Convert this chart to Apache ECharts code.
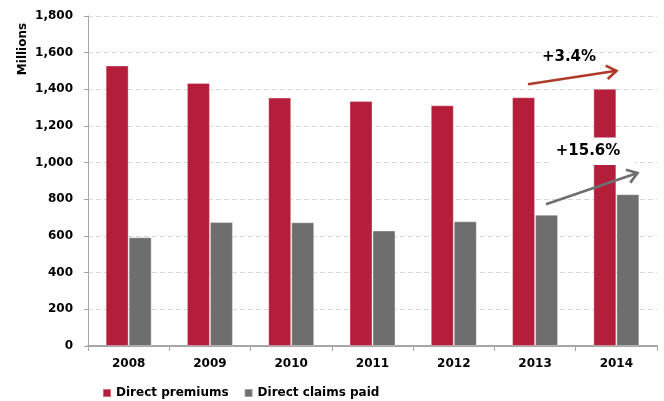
<!DOCTYPE html>
<html>
<head>
<meta charset="utf-8">
<script src="https://cdn.jsdelivr.net/npm/echarts@6/dist/echarts.min.js"></script>
<style>
  html, body { margin: 0; padding: 0; background: #fff; }
  #chart { width: 664px; height: 401px; }
</style>
</head>
<body>
<div id="chart"></div>
<script>
// Years on the category axis
const years = ['2008', '2009', '2010', '2011', '2012', '2013', '2014'];
// Direct premiums, millions
const directPremiums = [1530, 1435, 1355, 1337, 1313, 1357, 1403];
// Direct claims paid, millions
const directClaims = [593, 676, 675, 630, 680, 716, 828];
// Value axis range
const yMin = 0, yMax = 1800, yStep = 200;
// Growth call-outs 2013 -> 2014
const premiumGrowthText = '+3.4%';
const claimsGrowthText = '+15.6%';

const FONT = '"DejaVu Sans", Verdana, sans-serif';
const RED = '#B41E3A';
const GREY = '#6E6E6E';

function fmt(v) {
  return String(v).replace(/\B(?=(\d{3})+(?!\d))/g, ',');
}

// Open chevron arrow built from a shaft and two wings
function arrow(x1, y1, x2, y2, color) {
  const ang = Math.atan2(y2 - y1, x2 - x1);
  const len = 12, spread = 0.6;
  const w1 = [x2 - len * Math.cos(ang - spread), y2 - len * Math.sin(ang - spread)];
  const w2 = [x2 - len * Math.cos(ang + spread), y2 - len * Math.sin(ang + spread)];
  const style = { stroke: color, lineWidth: 2.6, fill: null, lineCap: 'butt', lineJoin: 'miter' };
  return [
    { type: 'line', shape: { x1: x1, y1: y1, x2: x2, y2: y2 }, style: style, z: 10 },
    { type: 'polyline', shape: { points: [w1, [x2, y2], w2] }, style: style, z: 10 }
  ];
}

const chart = echarts.init(document.getElementById('chart'), null, { renderer: 'canvas' });

chart.setOption({
  animation: false,
  backgroundColor: '#fff',
  grid: { left: 88, right: 7, top: 16, bottom: 55, containLabel: false },
  legend: {
    left: 97,
    top: 382,
    itemWidth: 8,
    itemHeight: 8,
    itemGap: 15,
    icon: 'rect',
    textStyle: { fontFamily: FONT, fontWeight: 'bold', fontSize: 12, color: '#000' },
    data: ['Direct premiums', 'Direct claims paid']
  },
  xAxis: {
    type: 'category',
    data: years,
    axisLine: { lineStyle: { color: '#A6A6A6', width: 2 } },
    axisTick: { show: true, length: 5, lineStyle: { color: '#A6A6A6' } },
    axisLabel: { margin: 12, fontFamily: FONT, fontWeight: 'bold', fontSize: 12, color: '#000' }
  },
  yAxis: {
    type: 'value',
    min: yMin,
    max: yMax,
    interval: yStep,
    axisLine: { show: true, lineStyle: { color: '#A6A6A6', width: 1 } },
    axisTick: { show: true, length: 4, lineStyle: { color: '#A6A6A6' } },
    axisLabel: {
      margin: 15,
      fontFamily: FONT, fontWeight: 'bold', fontSize: 12, color: '#000',
      formatter: fmt
    },
    splitLine: { show: true, lineStyle: { color: '#D9D9D9', type: [5, 3], width: 1 } }
  },
  series: [
    {
      name: 'Direct premiums',
      type: 'bar',
      data: directPremiums,
      barWidth: 23,
      barGap: '0%',
      itemStyle: { color: RED, borderColor: 'rgba(255,255,255,0.35)', borderWidth: 1 }
    },
    {
      name: 'Direct claims paid',
      type: 'bar',
      data: directClaims,
      barWidth: 23,
      barGap: '0%',
      itemStyle: { color: GREY, borderColor: 'rgba(255,255,255,0.35)', borderWidth: 1 }
    }
  ],
  graphic: [
    {
      type: 'text',
      x: 22.5, y: 49,
      rotation: Math.PI / 2,
      style: {
        text: 'Millions', fontFamily: FONT, fontWeight: 'bold', fontSize: 12, fill: '#000',
        align: 'center', verticalAlign: 'middle'
      }
    },
    ...arrow(528, 84.3, 616.5, 70.8, '#AD3B27'),
    {
      type: 'text', x: 569, y: 57, z: 11,
      style: {
        text: premiumGrowthText, fontFamily: FONT, fontWeight: 'bold', fontSize: 15, fill: '#000',
        align: 'center', verticalAlign: 'middle'
      }
    },
    {
      type: 'rect', z: 9,
      shape: { x: 552, y: 137.5, width: 83, height: 27.5 },
      style: { fill: '#fff' }
    },
    {
      type: 'text', x: 588, y: 151.5, z: 11,
      style: {
        text: claimsGrowthText, fontFamily: FONT, fontWeight: 'bold', fontSize: 15, fill: '#000',
        align: 'center', verticalAlign: 'middle'
      }
    },
    ...arrow(546, 204.3, 637.5, 173, '#6E6E6E')
  ]
});
</script>
</body>
</html>
